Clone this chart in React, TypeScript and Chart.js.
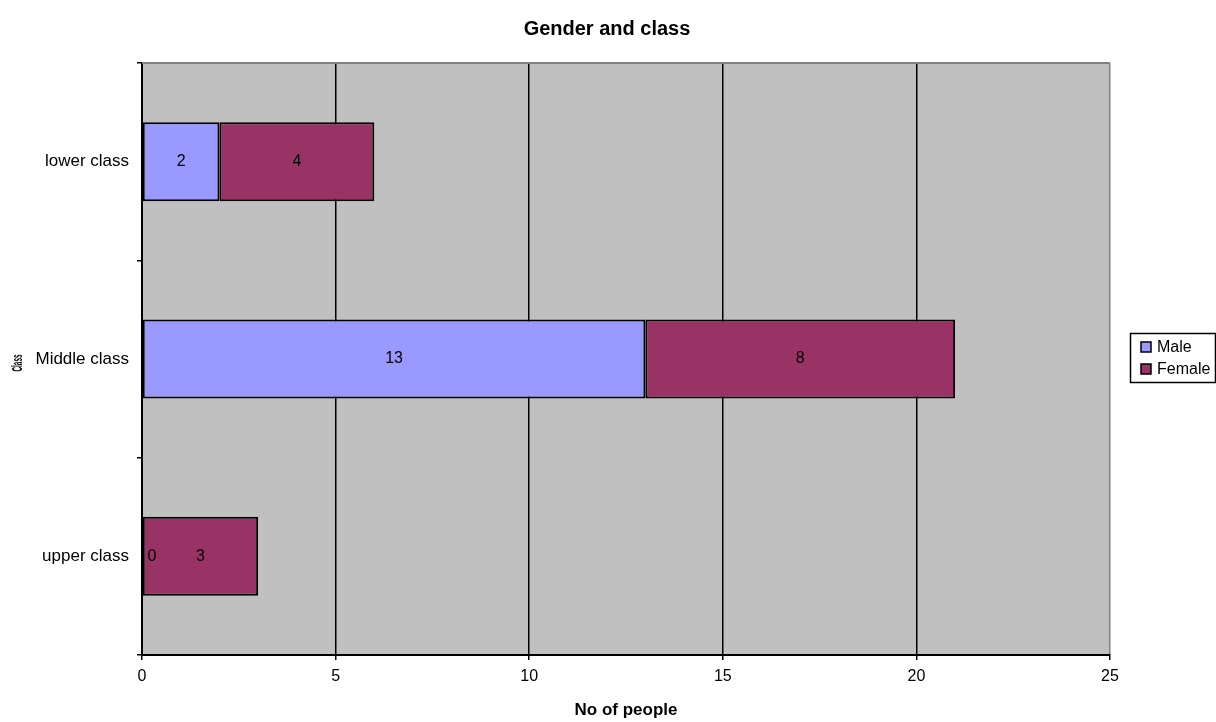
import React, { useEffect, useRef } from "react";
import { Chart, registerables } from "chart.js";

Chart.register(...registerables);

const categories = ["lower class", "Middle class", "upper class"];
const maleValues = [2, 13, 0];
const femaleValues = [4, 8, 3];
const xTicks = [0, 5, 10, 15, 20, 25];

const FONT = "'Liberation Sans', Arial, sans-serif";

const chartDecor = {
  id: "chartDecor",
  beforeDraw(chart: any) {
    const { ctx, chartArea: a } = chart;
    ctx.save();
    ctx.fillStyle = "#C0C0C0";
    ctx.fillRect(a.left, a.top, a.right - a.left, a.bottom - a.top);
    ctx.restore();
  },
  beforeDatasetsDraw(chart: any) {
    const { ctx, chartArea: a } = chart;
    ctx.save();
    ctx.strokeStyle = "#808080";
    ctx.lineWidth = 2;
    ctx.beginPath();
    ctx.moveTo(a.left, a.top);
    ctx.lineTo(a.right, a.top);
    ctx.stroke();
    ctx.restore();
  },
  afterDatasetsDraw(chart: any) {
    const { ctx } = chart;
    ctx.save();
    ctx.font = `16px ${FONT}`;
    ctx.fillStyle = "#000";
    ctx.textBaseline = "middle";
    ctx.textAlign = "center";
    chart.data.datasets.forEach((ds: any, di: number) => {
      const meta = chart.getDatasetMeta(di);
      meta.data.forEach((el: any, i: number) => {
        const v = ds.data[i];
        const text = String(v);
        const x = v === 0 ? el.base + 10 : (el.x + el.base) / 2;
        ctx.fillText(text, x, el.y);
      });
    });
    ctx.restore();
  },
  afterDraw(chart: any) {
    const { ctx, chartArea: a } = chart;
    ctx.save();
    // chart title
    ctx.fillStyle = "#000";
    ctx.font = `bold 20px ${FONT}`;
    ctx.textAlign = "center";
    ctx.textBaseline = "middle";
    ctx.fillText("Gender and class", 607, 29);
    // x axis title
    ctx.font = `bold 17px ${FONT}`;
    ctx.fillText("No of people", (a.left + a.right) / 2, 710);
    // y axis title, squeezed into a narrow space
    ctx.save();
    ctx.translate(18, 363);
    ctx.rotate(-Math.PI / 2);
    ctx.font = `bold 14px ${FONT}`;
    ctx.fillText("Class", 0, 0, 17);
    ctx.restore();
    // legend
    const lx = 1130, ly = 333, lw = 85, lh = 49;
    ctx.fillStyle = "#fff";
    ctx.fillRect(lx, ly, lw, lh);
    ctx.strokeStyle = "#000";
    ctx.lineWidth = 1.5;
    ctx.strokeRect(lx + 0.5, ly + 0.5, lw, lh);
    const items = chart.data.datasets.map((d: any) => ({ label: d.label, color: d.backgroundColor }));
    ctx.font = `16px ${FONT}`;
    ctx.textAlign = "left";
    items.forEach((it: any, i: number) => {
      const y = ly + 14 + i * 22;
      ctx.fillStyle = it.color;
      ctx.fillRect(lx + 11, y - 5, 10, 10);
      ctx.strokeStyle = "#000";
      ctx.lineWidth = 1.5;
      ctx.strokeRect(lx + 11, y - 5, 10, 10);
      ctx.fillStyle = "#000";
      ctx.fillText(it.label, lx + 27, y + 1);
    });
    ctx.restore();
  },
};

export default function App() {
  const canvasRef = useRef<HTMLCanvasElement | null>(null);

  useEffect(() => {
    document.body.style.margin = "0";
    const canvas = canvasRef.current;
    if (!canvas) return;
    const chart = new Chart(canvas, {
      type: "bar",
      data: {
        labels: categories,
        datasets: [
          {
            label: "Male",
            data: maleValues,
            backgroundColor: "#9999FF",
            borderColor: "#000",
            borderWidth: 2,
            borderSkipped: false,
            categoryPercentage: 1,
            barPercentage: 0.4,
          },
          {
            label: "Female",
            data: femaleValues,
            backgroundColor: "#993366",
            borderColor: "#000",
            borderWidth: 2,
            borderSkipped: false,
            categoryPercentage: 1,
            barPercentage: 0.4,
          },
        ],
      },
      options: {
        indexAxis: "y",
        responsive: false,
        animation: false,
        devicePixelRatio: 1,
        layout: { padding: { top: 63, right: 106, bottom: 0, left: 0 } },
        plugins: {
          legend: { display: false },
          title: { display: false },
          tooltip: { enabled: false },
        },
        scales: {
          x: {
            type: "linear",
            stacked: true,
            min: 0,
            max: 25,
            afterBuildTicks: (scale: any) => {
              scale.ticks = xTicks.map((v) => ({ value: v }));
            },
            afterFit: (scale: any) => {
              scale.height = 67;
            },
            ticks: {
              color: "#000",
              font: { family: FONT, size: 16 },
              padding: 7,
            },
            grid: {
              color: (c: any) => (c.tick && c.tick.value === 25 ? "#808080" : "#000"),
              tickColor: "#000",
              tickLength: 5,
              lineWidth: 1.5,
            },
            border: { color: "#000", width: 2 },
          },
          y: {
            type: "category",
            stacked: true,
            afterFit: (scale: any) => {
              scale.width = 142;
            },
            ticks: {
              color: "#000",
              font: { family: FONT, size: 17 },
              padding: 8,
            },
            grid: {
              offset: true,
              drawOnChartArea: false,
              tickColor: "#000",
              tickLength: 5,
              lineWidth: 1.5,
            },
            border: { color: "#000", width: 2 },
          },
        },
      },
      plugins: [chartDecor],
    });
    return () => chart.destroy();
  }, []);

  return (
    <div style={{ width: 1216, height: 722 }}>
      <canvas ref={canvasRef} width={1216} height={722} />
    </div>
  );
}
